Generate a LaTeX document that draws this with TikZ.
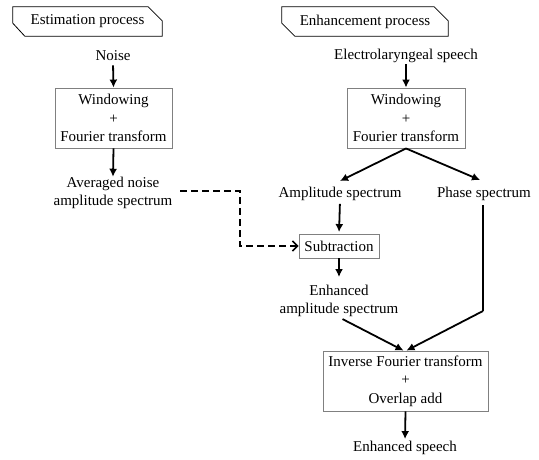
\documentclass[tikz,border=0pt]{standalone}
\usepackage{fontspec}
\setmainfont{Liberation Serif}
\usetikzlibrary{arrows.meta,calc}
\begin{document}
\begin{tikzpicture}[x=1pt,y=-1pt,
  every node/.style={font=\fontsize{15}{18.5}\selectfont},
  lbl/.style={inner sep=0pt, text height=10.5pt, text depth=3pt, align=center},
  lbltwo/.style={inner sep=0pt, align=center},
  procbox/.style={draw=black!50, line width=0.9pt, align=center, inner sep=0pt},
  tab/.style={inner sep=0pt, minimum height=29pt},
  arr/.style={line width=1.8pt, -{Latex[length=8pt,width=8pt]}},
  darr/.style={line width=1.8pt, dash pattern=on 7pt off 4pt, -{Straight Barb[length=5pt,width=10pt,line width=1.6pt]}},
  ln/.style={line width=1.8pt}
]
\useasboundingbox (0,0) rectangle (539,459);

% process tabs
\node[tab, minimum width=149pt] (est) at (87.5,21.5) {Estimation process};
\draw[line width=0.8pt] ($(est.north west)$) -- ($(est.north east)+(-14,0)$) -- ($(est.north east)+(0,14)$)
  -- (est.south east) -- ($(est.south west)+(12,0)$) -- ($(est.south west)+(0,-13)$) -- cycle;
\node[tab, minimum width=166pt] (enh) at (365,21.5) {Enhancement process};
\draw[line width=0.8pt] ($(enh.north west)$) -- ($(enh.north east)+(-14,0)$) -- ($(enh.north east)+(0,14)$)
  -- (enh.south east) -- ($(enh.south west)+(13,0)$) -- ($(enh.south west)+(0,-13)$) -- cycle;

% estimation column
\node[lbl] (noise) at (113,56.5) {Noise};
\node[procbox, minimum width=117pt, minimum height=60pt] (win1) at (113.5,118) {Windowing\\+\\Fourier transform};
\node[lbltwo] (avg) at (113,193) {Averaged noise\\amplitude spectrum};

% enhancement column
\node[lbl] (el) at (406,55.5) {Electrolaryngeal speech};
\node[procbox, minimum width=118pt, minimum height=60pt] (win2) at (406,118) {Windowing\\+\\Fourier transform};
\node[lbl] (amp) at (340,194) {Amplitude spectrum};
\node[lbl] (phase) at (484,194) {Phase spectrum};
\node[procbox, minimum width=80pt, minimum height=24pt] (sub) at (339,246) {Subtraction};
\node[lbltwo] (ens) at (339,301) {Enhanced\\amplitude spectrum};
\node[procbox, minimum width=165pt, minimum height=60pt] (ift) at (405.5,381) {Inverse Fourier transform\\+\\Overlap add};
\node[lbl] (out) at (405,448) {Enhanced speech};

\coordinate (bend) at (483,311);
\coordinate (d1) at (240,191);
\coordinate (d2) at (240,246);

% connectors
\draw[arr, shorten <=2pt] (noise.south) -- (win1.north);
\draw[arr] (win1.south) -- (avg.north);
\draw[arr, shorten <=2pt] (el.south) -- (win2.north);
\draw[arr] (win2.south) -- (340,181);
\draw[arr] (win2.south) -- (480,180);
\draw[arr, shorten <=3pt, shorten >=1.5pt] (amp.south) -- (sub.north);
\draw[arr] (sub.south) -- (339,277);
\draw[darr] (180,191) -- (d1) -- (d2) -- (sub.west);
\draw[ln] (483,205) -- (bend);
\draw[arr] (bend) -- ($(ift.north)+(1,0)$);
\draw[arr, shorten <=4pt] (ens.south) -- ($(ift.north)+(-2,0)$);
\draw[arr, shorten >=2pt] (ift.south) -- (out.north);
\end{tikzpicture}
\end{document}
